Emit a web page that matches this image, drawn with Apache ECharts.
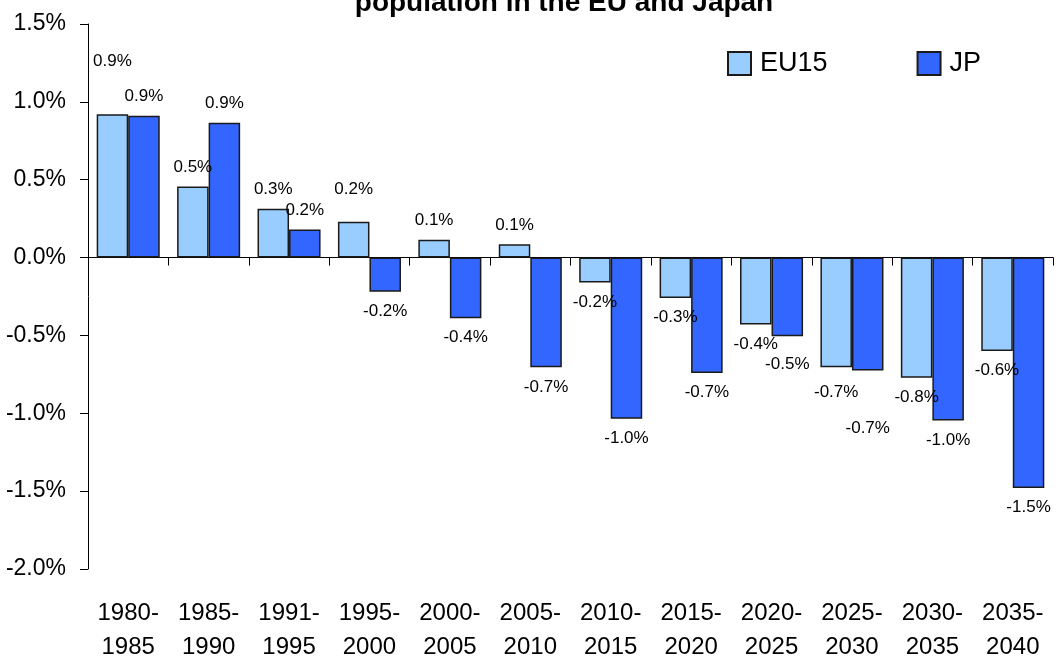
<!DOCTYPE html>
<html>
<head>
<meta charset="utf-8">
<script src="https://cdn.jsdelivr.net/npm/echarts@6/dist/echarts.min.js"></script>
<style>
html,body{margin:0;padding:0;background:#fff;}
#chart{width:1062px;height:664px;}
</style>
</head>
<body>
<div id="chart"></div>
<script>
// ---- data ----
var categories = ['1980-1985','1985-1990','1991-1995','1995-2000','2000-2005','2005-2010',
                  '2010-2015','2015-2020','2020-2025','2025-2030','2030-2035','2035-2040'];
var eu15 = [0.92, 0.456, 0.313, 0.23, 0.114, 0.085, -0.16, -0.26, -0.43, -0.704, -0.772, -0.60];
var jp   = [0.91, 0.866, 0.181, -0.22, -0.39, -0.705, -1.035, -0.742, -0.505, -0.725, -1.047, -1.48];
var yTicks = [-2.0, -1.5, -1.0, -0.5, 0.0, 0.5, 1.0, 1.5];
var titleText = 'population in the EU and Japan';

// ---- label spacing (style) ----
var euLabelDist = [45,11,11,24,11,11,11,11,11,17,11,11];
var jpLabelDist = [11,11,11,11,11,11,11,11,20,49,11,11];

var FONT = "'Liberation Sans',Arial,sans-serif";

function buildData(vals, dists) {
  return vals.map(function (v, i) {
    return {
      value: v,
      label: { position: v >= 0 ? 'top' : 'bottom', distance: dists[i] }
    };
  });
}

var chart = echarts.init(document.getElementById('chart'));
var option = {
  animation: false,
  backgroundColor: '#fff',
  textStyle: { fontFamily: FONT },
  graphic: [{
    type: 'text',
    x: 564, y: 3,
    style: {
      text: titleText,
      font: 'bold 28px ' + FONT,
      fill: '#000',
      textAlign: 'center',
      textVerticalAlign: 'middle'
    }
  }],
  legend: {
    left: 722, top: 45,
    itemWidth: 23, itemHeight: 23,
    itemGap: 89,
    icon: 'rect',
    textStyle: { fontSize: 27, color: '#000', fontFamily: FONT, padding: [0, 0, 0, 4] },
    data: ['EU15', 'JP']
  },
  grid: { left: 88, right: 9, top: 24, bottom: 93, containLabel: false },
  xAxis: [{
    type: 'category',
    data: categories,
    position: 'bottom',
    axisLine: { show: true, onZero: true, lineStyle: { color: '#000', width: 1 } },
    axisTick: { show: true, length: 8, lineStyle: { color: '#000' } },
    axisLabel: { show: false }
  }, {
    type: 'category',
    data: categories,
    position: 'bottom',
    axisLine: { show: false, onZero: false },
    axisTick: { show: false },
    axisLabel: {
      show: true, interval: 0, margin: 27, fontSize: 24, lineHeight: 34, color: '#000', fontFamily: FONT,
      formatter: function (v) { return v.replace('-', '-\n'); }
    }
  }],
  yAxis: {
    type: 'value',
    min: yTicks[0], max: yTicks[yTicks.length - 1], interval: 0.5,
    axisLine: { show: true, lineStyle: { color: '#000', width: 1 } },
    axisTick: { show: true, length: 8, lineStyle: { color: '#000' } },
    splitLine: { show: false },
    axisLabel: {
      margin: 22, fontSize: 23, color: '#000', fontFamily: FONT,
      formatter: function (v) { return v.toFixed(1) + '%'; }
    }
  },
  series: [{
    name: 'EU15',
    type: 'bar',
    barGap: '0%',
    barCategoryGap: '21.6%',
    data: buildData(eu15, euLabelDist),
    itemStyle: { color: '#99CCFF', borderColor: '#1a1a1a', borderWidth: 1.5 },
    label: {
      show: true, fontSize: 17, color: '#000', fontFamily: FONT,
      formatter: function (p) { return p.value.toFixed(1) + '%'; }
    }
  }, {
    name: 'JP',
    type: 'bar',
    barGap: '0%',
    barCategoryGap: '21.6%',
    data: buildData(jp, jpLabelDist),
    itemStyle: { color: '#3366FF', borderColor: '#1a1a1a', borderWidth: 1.5 },
    label: {
      show: true, fontSize: 17, color: '#000', fontFamily: FONT,
      formatter: function (p) { return p.value.toFixed(1) + '%'; }
    }
  }]
};
chart.setOption(option);
</script>
</body>
</html>
